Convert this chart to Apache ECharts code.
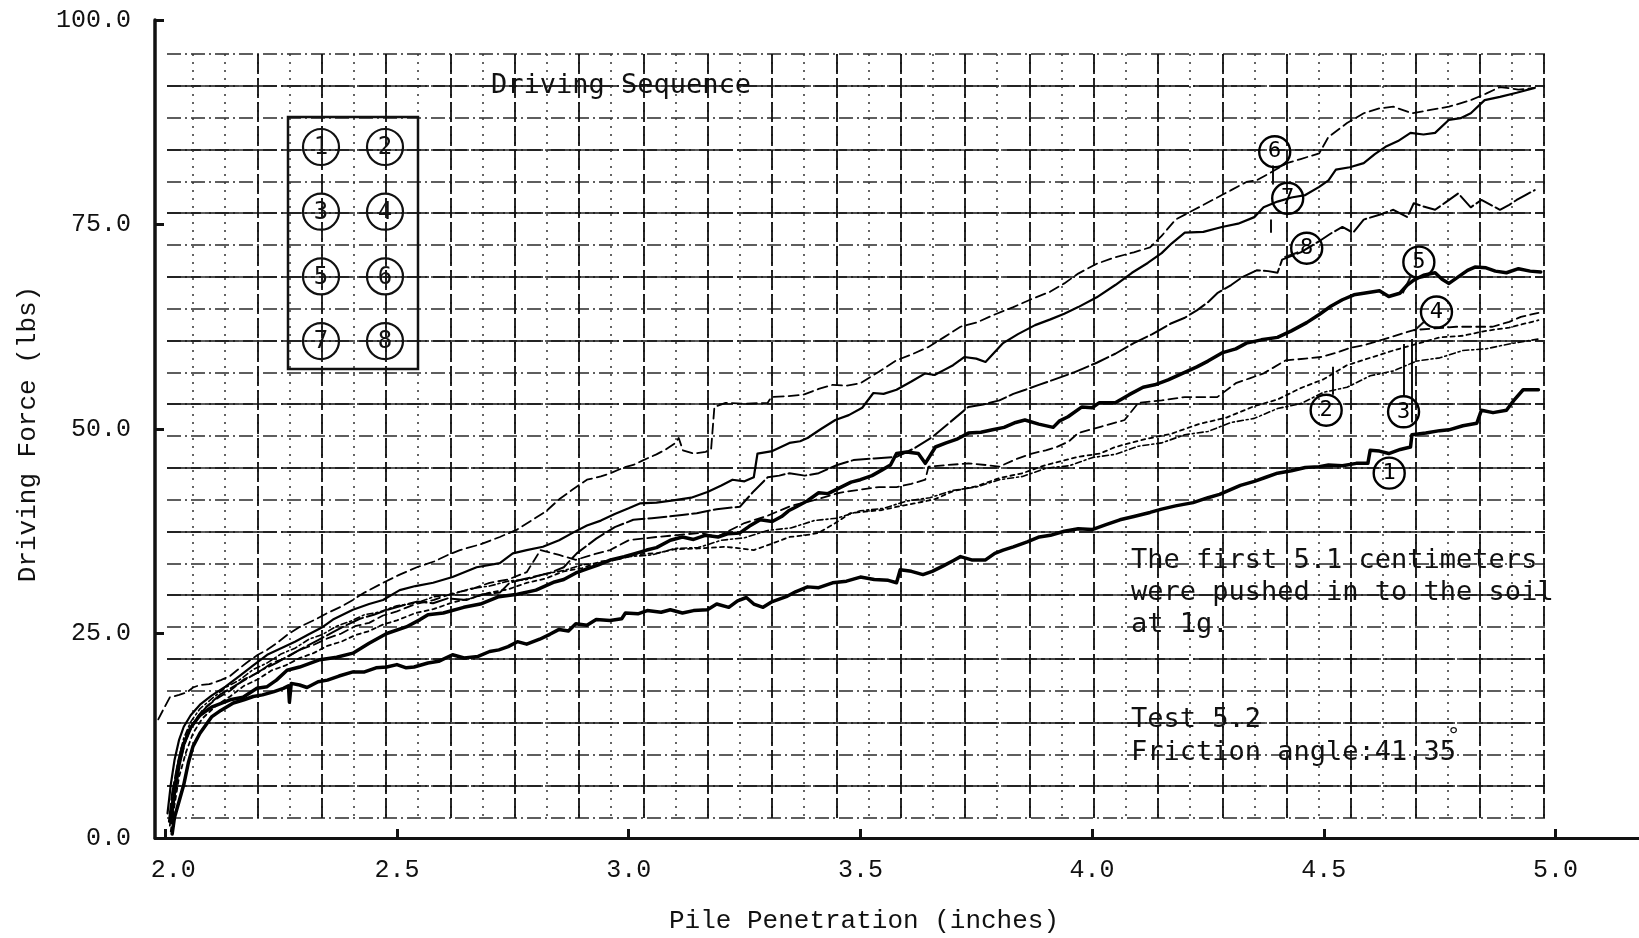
<!DOCTYPE html>
<html>
<head>
<meta charset="utf-8">
<script src="https://cdn.jsdelivr.net/npm/echarts@6/dist/echarts.min.js"></script>
<style>
html,body{margin:0;padding:0;background:#ffffff;}
#chart{width:1639px;height:938px;}
</style>
</head>
<body>
<div id="chart"></div>
<script>
// Axis ticks
const xTicks = [2.0, 2.5, 3.0, 3.5, 4.0, 4.5, 5.0];
const yTicks = [0, 25, 50, 75, 100];

// Driving force (lbs) vs pile penetration (inches), one array per pile
const pile1 = [[2.015,0.5],[2.02,2.5],[2.03,4.5],[2.04,6.5],[2.05,9.2],[2.06,11.2],[2.075,12.8],[2.09,14.0],[2.10,14.8],[2.12,15.6],[2.147,16.5],[2.17,16.9],[2.19,17.3],[2.21,17.5],[2.235,17.9],[2.255,18.3],[2.266,18.6],[2.268,16.6],[2.272,18.9],[2.29,18.7],[2.306,18.4],[2.33,19.1],[2.35,19.3],[2.375,19.8],[2.405,20.3],[2.43,20.3],[2.455,20.8],[2.478,20.9],[2.50,21.2],[2.52,20.8],[2.537,20.9],[2.567,21.4],[2.59,21.6],[2.62,22.4],[2.645,22.0],[2.675,22.2],[2.70,22.8],[2.72,23.0],[2.74,23.4],[2.76,24.0],[2.78,23.7],[2.808,24.3],[2.83,24.9],[2.85,25.5],[2.87,25.3],[2.886,26.2],[2.91,26.0],[2.93,26.7],[2.96,26.6],[2.985,26.8],[2.993,27.5],[3.02,27.4],[3.04,27.8],[3.07,27.6],[3.09,27.9],[3.116,27.5],[3.14,27.8],[3.17,27.9],[3.19,28.6],[3.216,28.2],[3.235,29.0],[3.254,29.4],[3.27,28.6],[3.29,28.2],[3.31,28.9],[3.34,29.5],[3.36,30.1],[3.386,30.7],[3.41,30.6],[3.44,31.2],[3.47,31.4],[3.50,31.9],[3.53,31.6],[3.56,31.5],[3.578,31.2],[3.586,32.8],[3.61,32.6],[3.635,32.2],[3.655,32.6],[3.68,33.3],[3.70,33.9],[3.716,34.4],[3.74,34.0],[3.77,34.0],[3.79,34.8],[3.808,35.2],[3.83,35.6],[3.86,36.2],[3.886,36.8],[3.91,37.0],[3.94,37.5],[3.97,37.8],[4.00,37.7],[4.03,38.3],[4.06,38.9],[4.09,39.3],[4.125,39.8],[4.15,40.2],[4.18,40.6],[4.218,41.0],[4.25,41.6],[4.275,42.0],[4.295,42.5],[4.32,43.1],[4.35,43.6],[4.375,44.1],[4.40,44.6],[4.43,44.9],[4.46,45.3],[4.49,45.4],[4.51,45.6],[4.54,45.5],[4.57,45.8],[4.595,45.8],[4.60,47.4],[4.62,47.3],[4.64,47.0],[4.665,47.5],[4.687,47.8],[4.69,49.3],[4.72,49.5],[4.75,49.8],[4.77,49.9],[4.80,50.4],[4.83,50.7],[4.84,52.3],[4.865,52.0],[4.894,52.3],[4.91,53.5],[4.93,54.8],[4.963,54.8]];

const pile2 = [[2.01,2.5],[2.018,6.0],[2.028,9.5],[2.04,12.2],[2.055,14.2],[2.075,15.8],[2.10,17.0],[2.13,18.4],[2.16,19.3],[2.19,20.6],[2.22,21.4],[2.25,22.5],[2.28,23.2],[2.31,24.3],[2.34,24.9],[2.37,25.9],[2.40,26.5],[2.43,27.3],[2.46,27.6],[2.50,28.4],[2.54,28.7],[2.58,29.5],[2.62,29.8],[2.66,30.5],[2.70,30.8],[2.74,31.4],[2.78,31.6],[2.82,32.3],[2.86,32.7],[2.90,33.4],[2.95,33.7],[3.00,34.4],[3.05,34.6],[3.10,35.4],[3.15,35.5],[3.20,36.4],[3.25,36.7],[3.30,37.6],[3.35,37.9],[3.40,38.8],[3.45,39.1],[3.50,40.0],[3.55,40.3],[3.60,41.2],[3.65,41.6],[3.70,42.5],[3.75,42.9],[3.80,43.8],[3.85,44.2],[3.90,45.2],[3.95,45.5],[4.00,46.5],[4.05,46.9],[4.10,47.9],[4.15,48.3],[4.20,49.3],[4.25,49.7],[4.30,50.8],[4.35,51.3],[4.40,52.5],[4.45,53.1],[4.50,54.5],[4.55,55.1],[4.60,56.5],[4.65,57.1],[4.70,58.3],[4.75,58.7],[4.80,59.6],[4.85,59.8],[4.90,60.4],[4.963,61.0]];

const pile3 = [[2.012,0.8],[2.02,4.0],[2.03,7.5],[2.045,10.5],[2.06,12.8],[2.08,14.6],[2.11,16.2],[2.14,17.3],[2.17,18.6],[2.20,19.4],[2.23,20.5],[2.26,21.1],[2.29,22.0],[2.32,22.6],[2.35,23.5],[2.38,24.0],[2.41,24.8],[2.44,25.3],[2.47,26.1],[2.50,26.6],[2.54,27.5],[2.58,28.0],[2.62,28.8],[2.66,29.3],[2.70,30.0],[2.74,30.4],[2.78,31.2],[2.82,31.7],[2.86,32.6],[2.90,33.0],[2.94,33.8],[2.98,34.1],[3.02,34.7],[3.06,34.8],[3.10,35.3],[3.15,35.4],[3.21,35.6],[3.27,35.2],[3.31,36.0],[3.347,36.8],[3.38,37.0],[3.41,37.3],[3.446,38.5],[3.478,39.7],[3.51,39.9],[3.547,40.1],[3.58,40.5],[3.616,40.9],[3.66,41.4],[3.70,42.4],[3.75,43.0],[3.80,44.0],[3.85,44.6],[3.90,45.6],[3.97,46.6],[4.017,47.0],[4.05,47.8],[4.11,48.7],[4.17,49.4],[4.23,50.6],[4.29,51.4],[4.35,52.8],[4.40,53.6],[4.45,55.0],[4.50,56.1],[4.55,57.8],[4.60,58.7],[4.65,59.6],[4.70,60.4],[4.75,61.2],[4.80,61.4],[4.85,62.0],[4.90,62.4],[4.963,63.3]];

const pile4 = [[2.01,1.5],[2.018,5.0],[2.03,9.0],[2.045,12.0],[2.06,14.0],[2.08,15.6],[2.11,17.0],[2.14,18.0],[2.17,19.4],[2.20,20.2],[2.23,21.4],[2.26,22.0],[2.29,23.0],[2.32,23.6],[2.35,24.4],[2.38,25.0],[2.41,25.9],[2.44,26.3],[2.47,27.2],[2.50,27.7],[2.54,28.6],[2.58,29.1],[2.62,29.9],[2.66,30.4],[2.70,31.2],[2.74,31.6],[2.78,32.5],[2.81,35.2],[2.85,34.6],[2.886,34.0],[2.92,34.6],[2.96,35.2],[3.00,36.4],[3.06,36.8],[3.10,37.0],[3.155,37.3],[3.19,36.8],[3.25,38.5],[3.30,39.4],[3.35,40.6],[3.40,41.3],[3.455,42.2],[3.50,42.6],[3.54,42.9],[3.578,42.9],[3.61,43.3],[3.64,43.8],[3.647,45.4],[3.69,45.6],[3.733,45.8],[3.77,45.6],[3.80,45.4],[3.835,46.3],[3.87,47.0],[3.90,47.4],[3.924,47.8],[3.95,48.5],[3.97,49.5],[4.02,50.3],[4.07,51.1],[4.10,53.2],[4.15,53.5],[4.20,53.9],[4.27,53.9],[4.31,55.6],[4.34,56.2],[4.37,56.8],[4.418,58.4],[4.46,58.6],[4.494,58.8],[4.526,59.3],[4.556,59.9],[4.59,60.3],[4.625,60.9],[4.66,61.5],[4.694,62.1],[4.74,62.3],[4.786,62.5],[4.83,62.5],[4.864,62.5],[4.90,63.1],[4.925,63.7],[4.963,64.2]];

const pile5 = [[2.012,2.0],[2.02,5.5],[2.03,9.0],[2.04,11.5],[2.055,13.5],[2.075,15.0],[2.10,16.0],[2.14,16.9],[2.168,17.2],[2.198,18.3],[2.22,18.5],[2.24,19.3],[2.263,20.5],[2.29,20.9],[2.334,21.8],[2.37,22.1],[2.405,22.6],[2.44,23.8],[2.478,25.0],[2.52,25.8],[2.55,26.7],[2.567,27.3],[2.60,27.5],[2.644,28.2],[2.68,28.6],[2.72,29.5],[2.76,29.8],[2.80,30.3],[2.84,31.3],[2.86,31.6],[2.886,32.4],[2.91,32.9],[2.935,33.4],[2.961,34.0],[2.99,34.4],[3.015,34.8],[3.039,35.2],[3.06,35.5],[3.09,36.4],[3.116,36.8],[3.14,36.5],[3.165,37.0],[3.193,36.8],[3.215,37.2],[3.24,37.3],[3.26,38.1],[3.284,38.9],[3.31,38.7],[3.33,39.3],[3.345,40.0],[3.362,40.5],[3.385,41.2],[3.41,42.2],[3.43,42.1],[3.455,42.8],[3.48,43.5],[3.50,43.8],[3.525,44.3],[3.547,45.0],[3.565,45.6],[3.578,47.0],[3.60,47.2],[3.625,47.0],[3.64,45.8],[3.662,47.8],[3.685,48.3],[3.71,48.8],[3.733,49.5],[3.76,49.6],[3.785,49.9],[3.81,50.2],[3.835,50.8],[3.855,51.1],[3.885,50.6],[3.916,50.2],[3.93,51.0],[3.948,51.5],[3.978,52.7],[4.00,52.6],[4.015,53.2],[4.05,53.2],[4.08,54.2],[4.11,55.1],[4.135,55.4],[4.164,56.0],[4.195,56.8],[4.226,57.6],[4.25,58.3],[4.28,59.3],[4.31,59.8],[4.333,60.5],[4.365,60.9],[4.40,61.2],[4.43,62.0],[4.463,63.0],[4.49,64.0],[4.515,65.0],[4.54,65.8],[4.565,66.4],[4.586,66.6],[4.62,66.9],[4.64,66.2],[4.664,66.6],[4.68,67.6],[4.694,68.2],[4.715,68.8],[4.74,69.1],[4.755,68.3],[4.77,67.8],[4.79,68.6],[4.81,69.4],[4.826,69.8],[4.85,69.7],[4.87,69.3],[4.894,69.1],[4.92,69.6],[4.945,69.3],[4.968,69.2]];

const pile6 = [[1.985,14.5],[1.995,15.6],[2.01,17.2],[2.03,17.5],[2.047,17.8],[2.06,18.4],[2.075,18.7],[2.095,18.8],[2.12,19.3],[2.14,19.8],[2.155,20.5],[2.175,21.4],[2.20,22.4],[2.22,23.0],[2.24,23.8],[2.265,24.9],[2.29,25.8],[2.32,26.6],[2.35,27.5],[2.38,28.3],[2.405,29.1],[2.43,30.0],[2.47,31.2],[2.506,32.2],[2.543,33.1],[2.58,33.8],[2.61,34.6],[2.636,35.2],[2.68,35.9],[2.722,36.8],[2.759,37.7],[2.79,38.8],[2.823,40.0],[2.85,41.4],[2.879,42.6],[2.91,43.8],[2.94,44.2],[2.961,44.6],[2.99,45.3],[3.01,45.6],[3.032,46.2],[3.06,46.9],[3.08,47.5],[3.101,48.3],[3.108,48.9],[3.117,47.4],[3.14,47.0],[3.166,47.2],[3.178,47.6],[3.182,50.5],[3.185,52.7],[3.209,53.2],[3.25,53.1],[3.30,53.2],[3.308,53.9],[3.34,54.0],[3.377,54.2],[3.41,54.9],[3.44,55.4],[3.47,55.3],[3.50,55.6],[3.54,57.0],[3.578,58.4],[3.61,59.1],[3.646,60.0],[3.68,61.2],[3.716,62.5],[3.75,63.0],[3.79,64.0],[3.83,64.9],[3.87,65.9],[3.91,66.8],[3.94,67.8],[3.97,69.0],[4.01,70.2],[4.05,71.0],[4.09,71.6],[4.125,72.2],[4.15,73.6],[4.18,75.6],[4.22,76.8],[4.26,78.0],[4.30,79.2],[4.333,80.2],[4.355,80.4],[4.39,81.5],[4.42,82.5],[4.45,83.0],[4.49,83.7],[4.51,85.7],[4.55,87.4],[4.586,88.6],[4.62,89.2],[4.65,89.4],[4.69,88.6],[4.73,89.0],[4.77,89.4],[4.817,90.2],[4.85,91.0],[4.88,91.8],[4.92,91.5],[4.955,91.7]];

const pile7 = [[2.005,3.0],[2.012,6.5],[2.02,9.5],[2.03,12.0],[2.04,13.6],[2.055,15.0],[2.075,16.3],[2.10,17.4],[2.13,18.5],[2.16,19.8],[2.19,21.1],[2.22,22.4],[2.25,23.2],[2.28,24.0],[2.31,24.9],[2.34,25.8],[2.362,26.7],[2.405,27.9],[2.44,28.6],[2.47,29.1],[2.506,30.3],[2.54,30.8],[2.578,31.2],[2.62,31.9],[2.672,33.1],[2.722,33.6],[2.75,34.8],[2.78,35.2],[2.815,35.6],[2.85,36.4],[2.879,37.3],[2.91,38.2],[2.94,38.8],[2.97,39.6],[3.00,40.3],[3.024,40.9],[3.06,41.0],[3.10,41.3],[3.135,41.6],[3.17,42.3],[3.20,43.1],[3.224,43.8],[3.25,43.6],[3.27,44.1],[3.278,47.0],[3.31,47.3],[3.347,48.3],[3.37,48.5],[3.386,48.9],[3.415,50.0],[3.446,51.1],[3.475,51.7],[3.504,52.6],[3.528,54.4],[3.55,54.3],[3.578,54.8],[3.61,55.8],[3.64,56.8],[3.66,56.6],[3.68,57.2],[3.70,57.8],[3.724,58.8],[3.75,58.6],[3.77,58.2],[3.79,59.4],[3.808,60.5],[3.84,61.6],[3.877,62.7],[3.91,63.4],[3.94,64.1],[3.97,64.9],[4.01,66.1],[4.05,67.6],[4.086,69.1],[4.12,70.3],[4.15,71.5],[4.172,72.7],[4.20,74.0],[4.24,74.1],[4.28,74.7],[4.315,75.1],[4.35,75.9],[4.37,77.1],[4.40,77.8],[4.43,78.3],[4.46,78.6],[4.49,79.6],[4.51,80.4],[4.526,81.7],[4.556,82.0],[4.586,82.5],[4.61,83.6],[4.633,84.5],[4.66,85.2],[4.687,86.2],[4.715,86.0],[4.74,86.2],[4.77,87.8],[4.795,88.0],[4.817,88.6],[4.847,90.2],[4.88,90.6],[4.916,91.1],[4.955,91.7]];

const pile8 = [[2.008,2.0],[2.015,5.5],[2.025,8.5],[2.035,11.0],[2.05,13.0],[2.07,14.8],[2.09,16.1],[2.12,17.6],[2.15,18.6],[2.18,19.6],[2.21,20.6],[2.24,21.4],[2.27,22.4],[2.30,23.3],[2.33,24.2],[2.36,25.1],[2.39,26.0],[2.42,26.8],[2.45,27.3],[2.48,27.9],[2.51,28.4],[2.543,28.9],[2.578,28.7],[2.61,29.3],[2.65,29.1],[2.685,29.8],[2.722,30.0],[2.743,31.2],[2.77,31.6],[2.793,31.9],[2.83,32.4],[2.86,33.1],[2.888,34.8],[2.93,36.6],[2.97,38.0],[3.01,38.9],[3.05,39.1],[3.086,39.3],[3.115,39.5],[3.147,39.7],[3.19,40.2],[3.24,40.5],[3.27,42.4],[3.30,44.1],[3.325,44.3],[3.347,44.6],[3.38,44.3],[3.41,44.6],[3.45,45.6],[3.485,46.2],[3.53,46.4],[3.578,46.6],[3.615,47.6],[3.655,49.0],[3.695,50.9],[3.733,52.7],[3.765,53.0],[3.80,53.5],[3.83,54.3],[3.856,54.8],[3.885,55.4],[3.916,56.0],[3.96,56.9],[4.01,58.1],[4.05,59.2],[4.09,60.5],[4.13,61.6],[4.17,62.9],[4.20,63.6],[4.226,64.5],[4.25,65.5],[4.27,66.6],[4.30,67.6],[4.325,68.6],[4.355,69.4],[4.38,69.3],[4.40,69.1],[4.41,70.7],[4.45,71.6],[4.494,73.1],[4.515,73.9],[4.54,74.7],[4.563,74.0],[4.586,75.6],[4.62,76.2],[4.65,76.8],[4.68,75.9],[4.694,77.6],[4.715,77.2],[4.74,76.8],[4.765,77.8],[4.79,78.8],[4.817,77.1],[4.84,78.0],[4.86,77.4],[4.88,76.8],[4.90,77.4],[4.916,78.0],[4.935,78.6],[4.955,79.2]];

// Circled pile numbers on the curves
const tagNames = ['1','2','3','4','5','6','7','8'];
const tagX = [4.641, 4.505, 4.672, 4.743, 4.705, 4.394, 4.422, 4.463];
const tagY = [44.6, 52.3, 52.1, 64.3, 70.4, 83.9, 78.2, 72.1];

// Leader strokes from tags to curves: [x1, y1, x2, y2]
const leaders = [
  [4.52, 54.2, 4.52, 57.6],
  [4.672, 54.1, 4.672, 60.4],
  [4.69, 50.8, 4.69, 61.0],
  [4.718, 63.2, 4.695, 62.0],
  [4.687, 68.6, 4.67, 66.6],
  [4.39, 82.2, 4.39, 79.9],
  [4.385, 75.6, 4.385, 74.0],
  [4.445, 71.6, 4.415, 71.0]
];

// Driving sequence grid (pile numbers in plan)
const sequence = [['1','2'],['3','4'],['5','6'],['7','8']];

const ink = '#111111';
const mono = '"Liberation Mono", "DejaVu Sans Mono", monospace';
const typewriter = '"DejaVu Sans Mono", "Liberation Mono", monospace';

const chart = echarts.init(document.getElementById('chart'), null, {renderer: 'canvas'});

function hiddenAxis(extra) {
  return Object.assign({
    type: 'value', show: true,
    axisLine: {show: false}, axisTick: {show: false}, axisLabel: {show: false},
    splitLine: {show: false}
  }, extra);
}

// Paper ruling: dotted + heavy verticals, dash-dot + solid horizontals
const paperGrids = [
  {left: 193, top: 54, width: 1351, height: 764},
  {left: 257.3, top: 54, width: 1286.7, height: 764},
  {left: 167, top: 54, width: 1378, height: 764},
  {left: 167, top: 85.8, width: 1378, height: 700.3}
];

const paperX = [
  hiddenAxis({gridIndex: 1, min: 0, max: 42, interval: 1,
    splitLine: {show: true, lineStyle: {color: '#333', width: 1.5, type: [2, 6]}}}),
  hiddenAxis({gridIndex: 2, min: 0, max: 20, interval: 1,
    splitLine: {show: true, lineStyle: {color: ink, width: 1.8, type: [20, 4]}}}),
  hiddenAxis({gridIndex: 3, min: 0, max: 1}),
  hiddenAxis({gridIndex: 4, min: 0, max: 1})
];
const paperY = [
  hiddenAxis({gridIndex: 1, min: 0, max: 1}),
  hiddenAxis({gridIndex: 2, min: 0, max: 1}),
  hiddenAxis({gridIndex: 3, min: 0, max: 24, interval: 1,
    splitLine: {show: true, lineStyle: {color: '#2a2a2a', width: 1.5, type: [14, 4, 2, 4]}}}),
  hiddenAxis({gridIndex: 4, min: 0, max: 11, interval: 1,
    splitLine: {show: true, lineStyle: {color: ink, width: 1.6, type: [34, 4]}}})
];

function curve(name, data, width, type) {
  return {
    name: name, type: 'line', data: data, xAxisIndex: 0, yAxisIndex: 0,
    showSymbol: false, symbol: 'none', smooth: false, z: 5,
    lineStyle: {color: '#000', width: width, type: type, cap: 'round', join: 'round'}
  };
}

const tagData = tagNames.map((n, i) => [tagX[i], tagY[i], n]);

const graphics = [];
// Sequence box
graphics.push({type: 'rect', shape: {x: 288, y: 117, width: 130, height: 252},
  style: {fill: 'rgba(0,0,0,0)', stroke: ink, lineWidth: 2.5}, z: 10});
sequence.forEach((row, r) => {
  row.forEach((n, c) => {
    const cx = 321 + c * 64, cy = 147 + r * 64.7;
    graphics.push({type: 'circle', shape: {cx: cx, cy: cy, r: 18},
      style: {fill: 'rgba(0,0,0,0)', stroke: ink, lineWidth: 2.2}, z: 10});
    graphics.push({type: 'text', x: cx, y: cy + 1, z: 11,
      style: {text: n, font: '24px ' + typewriter, fill: ink, align: 'center', verticalAlign: 'middle',
        textAlign: 'center', textVerticalAlign: 'middle'}});
  });
});
function note(text, x, y, size) {
  graphics.push({type: 'text', x: x, y: y, z: 11,
    style: {text: text, font: (size || 27) + 'px ' + typewriter, fill: ink,
      align: 'left', verticalAlign: 'middle', textAlign: 'left', textVerticalAlign: 'middle'}});
}
note('Driving Sequence', 491, 86);
note('The first 5.1 centimeters', 1131, 561);
note('were pushed in to the soil', 1131, 593);
note('at 1g.', 1131, 625);
note('Test 5.2', 1131, 720);
note('Friction angle:41.35', 1131, 753);
note('\u00B0', 1447, 737, 22);
// Axis titles
graphics.push({type: 'text', x: 864, y: 921, z: 11,
  style: {text: 'Pile Penetration (inches)', font: '26px ' + mono, fill: ink,
    align: 'center', verticalAlign: 'middle', textAlign: 'center', textVerticalAlign: 'middle'}});
graphics.push({type: 'text', x: 28, y: 434, rotation: Math.PI / 2, z: 11,
  style: {text: 'Driving Force (lbs)', font: '26px ' + mono, fill: ink,
    align: 'center', verticalAlign: 'middle', textAlign: 'center', textVerticalAlign: 'middle'}});

const option = {
  backgroundColor: '#ffffff',
  animation: false,
  grid: [{left: 155, right: 0, top: 20, bottom: 100}].concat(paperGrids),
  xAxis: [{
    type: 'value', gridIndex: 0, min: 1.978, max: 5.18,
    axisLine: {show: true, lineStyle: {color: ink, width: 3}},
    axisTick: {show: true, inside: true, length: 9, customValues: xTicks, lineStyle: {color: ink, width: 3}},
    axisLabel: {show: true, customValues: xTicks, margin: 20, color: ink, fontFamily: mono, fontSize: 25,
      formatter: v => (Math.abs(v - 2) < 1e-9 ? '{first|' + v.toFixed(1) + '}' : v.toFixed(1)),
      rich: {first: {padding: [0, 0, 0, 16], fontFamily: mono, fontSize: 25, color: ink}}},
    splitLine: {show: false}
  }].concat(paperX),
  yAxis: [{
    type: 'value', gridIndex: 0, min: 0, max: 100, interval: 25,
    axisLine: {show: true, onZero: false, lineStyle: {color: ink, width: 3.5}},
    axisTick: {show: true, inside: true, length: 9, lineStyle: {color: ink, width: 3}},
    axisLabel: {show: true, margin: 24, color: ink, fontFamily: mono, fontSize: 25,
      formatter: v => v.toFixed(1)},
    splitLine: {show: false}
  }].concat(paperY),
  graphic: graphics,
  series: [
    curve('1', pile1, 3.5, 'solid'),
    curve('2', pile2, 1.6, [6, 3, 2, 3]),
    curve('3', pile3, 1.8, [4, 4]),
    curve('4', pile4, 1.8, [9, 5]),
    curve('5', pile5, 3.5, 'solid'),
    curve('6', pile6, 1.8, [10, 5]),
    curve('7', pile7, 2.2, 'solid'),
    curve('8', pile8, 2.0, [18, 4]),
    {
      name: 'tags', type: 'scatter', data: tagData, xAxisIndex: 0, yAxisIndex: 0, z: 8,
      symbol: 'circle', symbolSize: 31,
      itemStyle: {color: 'rgba(0,0,0,0)', borderColor: '#000', borderWidth: 2.4, opacity: 1},
      label: {show: true, position: 'inside', formatter: p => p.value[2],
        color: '#000', fontFamily: typewriter, fontSize: 22},
      markLine: {
        silent: true, symbol: 'none', label: {show: false},
        lineStyle: {color: ink, width: 2, type: 'solid', opacity: 1},
        data: leaders.map(l => [{coord: [l[0], l[1]]}, {coord: [l[2], l[3]]}])
      }
    }
  ]
};
chart.setOption(option);
</script>
</body>
</html>
